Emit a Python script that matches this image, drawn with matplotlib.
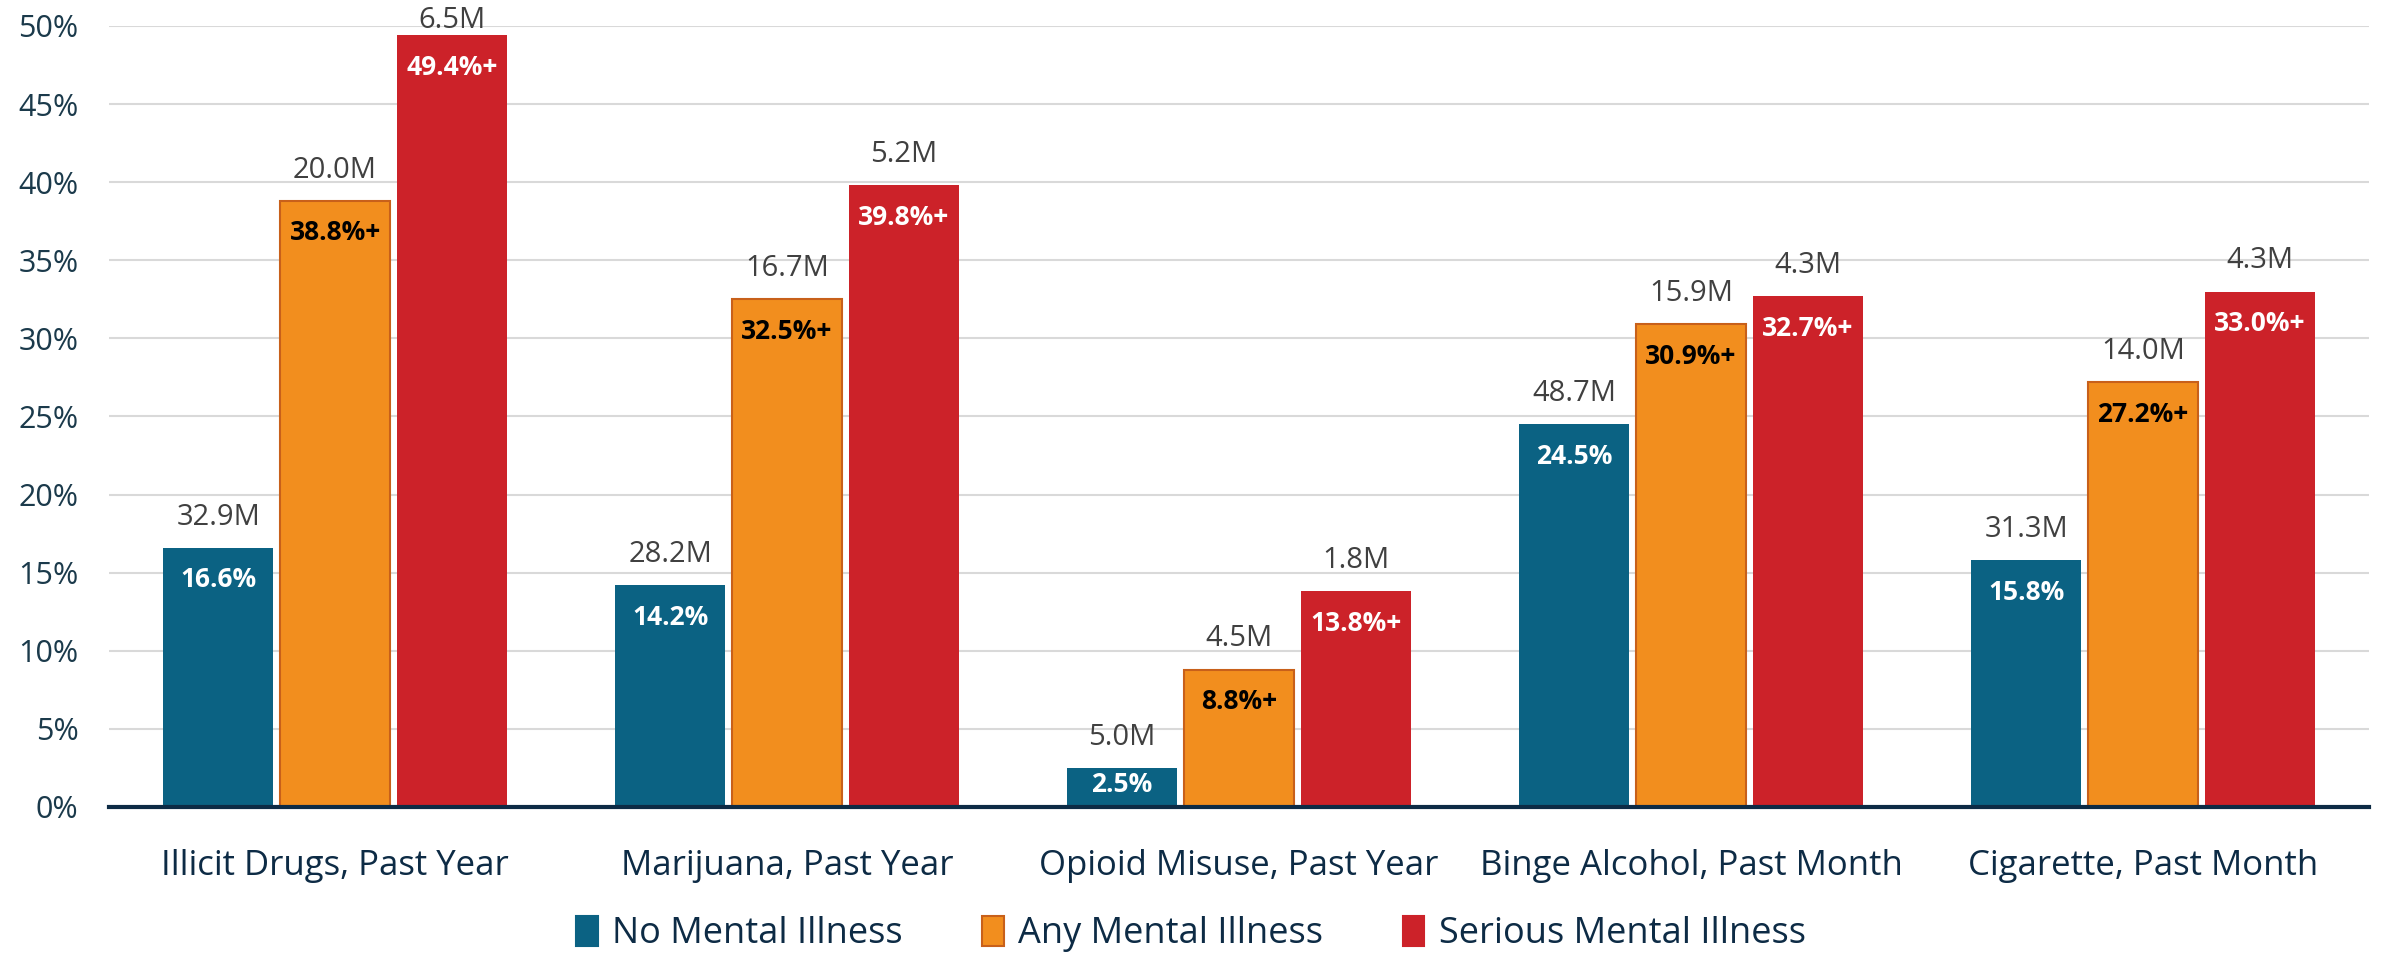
import numpy as np
import matplotlib.pyplot as plt
from matplotlib.patches import Patch

plt.rcParams['font.family'] = ['Open Sans', 'DejaVu Sans']

categories = ['Illicit Drugs, Past Year', 'Marijuana, Past Year', 'Opioid Misuse, Past Year',
              'Binge Alcohol, Past Month', 'Cigarette, Past Month']
series = ['No Mental Illness', 'Any Mental Illness', 'Serious Mental Illness']
no_mi = [16.6, 14.2, 2.5, 24.5, 15.8]
any_mi = [38.8, 32.5, 8.8, 30.9, 27.2]
smi = [49.4, 39.8, 13.8, 32.7, 33.0]
no_mi_counts = ['32.9M', '28.2M', '5.0M', '48.7M', '31.3M']
any_mi_counts = ['20.0M', '16.7M', '4.5M', '15.9M', '14.0M']
smi_counts = ['6.5M', '5.2M', '1.8M', '4.3M', '4.3M']
yticks = [0, 5, 10, 15, 20, 25, 30, 35, 40, 45, 50]

colors = ['#0B6283', '#F28E1E', '#CC2229']
edges = ['#0B6283', '#C8601A', '#CC2229']
inner_color = ['white', 'black', 'white']
suffix = ['', '+', '+']

fig = plt.figure(figsize=(23.82, 9.55), dpi=100)
ax = fig.add_axes([0.0458, 0.155, 0.9487, 0.8178])

x = np.arange(len(categories))
w = 0.243
step = 0.2585
all_vals = [no_mi, any_mi, smi]
all_counts = [no_mi_counts, any_mi_counts, smi_counts]

for i in range(3):
    xs = x + (i - 1) * step
    bars = ax.bar(xs, all_vals[i], width=w, color=colors[i], edgecolor=edges[i],
                  linewidth=1.5 if i == 1 else 0, zorder=3)
    for b, v, c in zip(bars, all_vals[i], all_counts[i]):
        cx = b.get_x() + b.get_width() / 2
        # short bars: keep the value inside the bar
        inner_off = -23 if v > 5 else -12
        ax.annotate(f'{v:.1f}%{suffix[i]}', (cx, v), xytext=(0, inner_off), textcoords='offset points',
                    ha='center', va='center', fontsize=19, fontweight='bold', color=inner_color[i], zorder=4)
        # labels near the top of the chart get pushed down so they stay inside
        off = 22 if v < 47 else 11
        ax.annotate(c, (cx, v), xytext=(0, off), textcoords='offset points',
                    ha='center', va='center', fontsize=21, color='#404040', zorder=4)

ax.set_xlim(-0.5, len(categories) - 0.5)
ax.set_ylim(0, 50)
ax.set_yticks(yticks)
ax.set_yticklabels([f'{t}%' for t in yticks], fontsize=22, color='#1B3A4B')
ax.set_xticks(x)
ax.set_xticklabels(categories, fontsize=25, color='#0D2B45')
ax.tick_params(axis='both', length=0)
ax.tick_params(axis='x', pad=30)
ax.tick_params(axis='y', pad=22)
ax.grid(axis='y', color='#D9D9D9', linewidth=1.5, zorder=0)
for s in ['top', 'right', 'left']:
    ax.spines[s].set_visible(False)
ax.spines['bottom'].set_color('#0D2B45')
ax.spines['bottom'].set_linewidth(3)
ax.spines['bottom'].set_zorder(5)

handles = [Patch(facecolor=colors[i], edgecolor=edges[i], linewidth=1.5) for i in range(3)]
leg = fig.legend(handles, series, loc='center', bbox_to_anchor=(0.5, 0.022), ncol=3, frameon=False,
                 fontsize=26, handlelength=0.6, handleheight=0.9, handletextpad=0.4, columnspacing=2.2)
for t in leg.get_texts():
    t.set_color('#0D2B45')

fig.savefig('out.png', dpi=100)
